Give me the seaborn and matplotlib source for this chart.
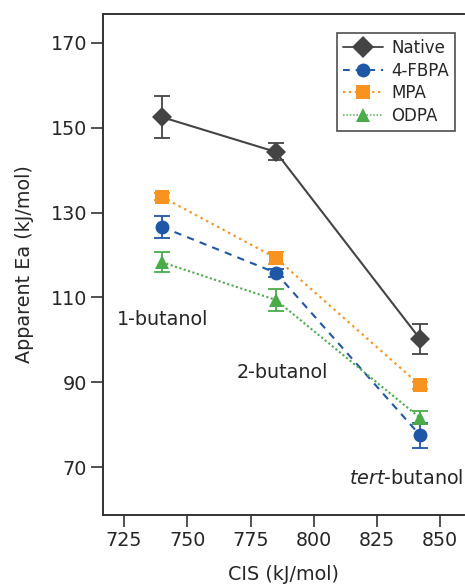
import numpy as np
import pandas as pd
import matplotlib

matplotlib.use("Agg")
import matplotlib.pyplot as plt
import seaborn as sns

# data
cis = [740, 785, 842]
native = [152.5, 144.3, 100.2]
native_err = [5.0, 2.0, 3.5]
fbpa = [126.6, 115.8, 77.5]
fbpa_err = [2.6, 1.0, 3.0]
mpa = [133.7, 119.3, 89.3]
mpa_err = [0.8, 1.5, 0.8]
odpa = [118.3, 109.4, 81.6]
odpa_err = [2.4, 2.5, 1.5]

series = ["Native", "4-FBPA", "MPA", "ODPA"]
x_ticks = [725, 750, 775, 800, 825, 850]
y_ticks = [70, 90, 110, 130, 150, 170]

values = {"Native": native, "4-FBPA": fbpa, "MPA": mpa, "ODPA": odpa}
errors = {"Native": native_err, "4-FBPA": fbpa_err, "MPA": mpa_err, "ODPA": odpa_err}

df = pd.DataFrame(
    [(s, x, y, e) for s in series for x, y, e in zip(cis, values[s], errors[s])],
    columns=["series", "CIS", "Ea", "err"],
)

colors = {"Native": "#444444", "4-FBPA": "#1f57a8", "MPA": "#f7931e", "ODPA": "#4aac48"}
markers = {"Native": "D", "4-FBPA": "o", "MPA": "s", "ODPA": "^"}
dashes = {"Native": "", "4-FBPA": (3.5, 3), "MPA": (1.2, 1.8), "ODPA": (1, 1.2)}
widths = {"Native": 1.3, "4-FBPA": 1.4, "MPA": 1.4, "ODPA": 1.1}

sns.set_theme(style="ticks")
plt.rcParams["font.family"] = ["DejaVu Sans"]

fig = plt.figure(figsize=(4.65, 5.85), dpi=100)
ax = fig.add_axes([0.2215, 0.1197, 0.777, 0.8563])

# error bars first, lines and markers on top
for s in series:
    sub = df[df["series"] == s]
    ax.errorbar(
        sub["CIS"], sub["Ea"], yerr=sub["err"], fmt="none",
        ecolor=colors[s], elinewidth=1.3, capsize=5.5, capthick=1.3, zorder=2,
    )

sns.lineplot(
    data=df, x="CIS", y="Ea", hue="series", style="series",
    palette=colors, markers=markers, dashes=dashes, hue_order=series,
    style_order=series, markersize=10, markeredgewidth=0, ax=ax, zorder=3,
)
for line, s in zip(ax.get_lines()[-len(series):], series):
    line.set_linewidth(widths[s])
for line in ax.get_lines():
    if line.get_label() == "Native":
        line.set_markersize(11)

ax.set_xlim(716.7, 859.5)
ax.set_ylim(58.7, 176.8)
ax.set_xticks(x_ticks)
ax.set_yticks(y_ticks)
ax.tick_params(axis="both", labelsize=13.8, length=8.5, width=1.2, color="#333333", pad=3)
for sp in ["left", "bottom", "top"]:
    ax.spines[sp].set_linewidth(1.4)
    ax.spines[sp].set_color("#333333")
ax.spines["right"].set_visible(False)

ax.set_xlabel("CIS (kJ/mol)", fontsize=13.8, labelpad=11)
ax.set_ylabel("Apparent Ea (kJ/mol)", fontsize=13.8, labelpad=12)

ax.text(722.2, 104.9, "1-butanol", fontsize=13.8, va="center", ha="left")
ax.text(769.6, 92.2, "2-butanol", fontsize=13.8, va="center", ha="left")
ax.text(0.998, 67.4, "$\\it{tert}$-butanol", fontsize=13.8, va="center", ha="right",
        transform=ax.get_yaxis_transform())

leg = ax.legend(
    loc="upper right", bbox_to_anchor=(0.974, 0.962), fontsize=12, frameon=True,
    fancybox=False, edgecolor="#222222", handlelength=2.4, handletextpad=0.5,
    borderpad=0.35, labelspacing=0.28, borderaxespad=0, title=None,
)
leg.get_frame().set_linewidth(1.2)

fig.savefig("out.png", dpi=100)
